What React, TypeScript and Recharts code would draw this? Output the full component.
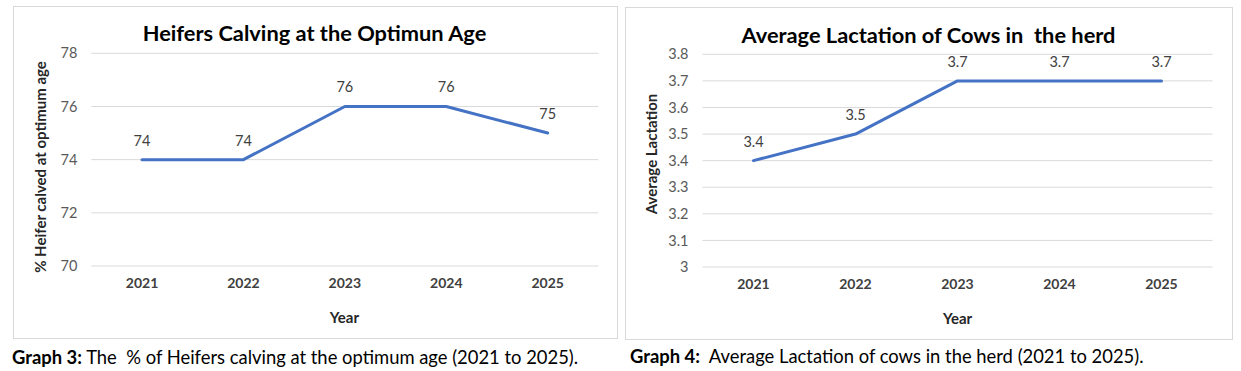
import React from 'react';
import { LineChart, Line, XAxis, YAxis, CartesianGrid, LabelList } from 'recharts';

const years = ['2021', '2022', '2023', '2024', '2025'];
const heiferPct = [74, 74, 76, 76, 75];
const avgLactation = [3.4, 3.5, 3.7, 3.7, 3.7];
const heiferTicks = [70, 72, 74, 76, 78];
const lactationTicks = [3, 3.1, 3.2, 3.3, 3.4, 3.5, 3.6, 3.7, 3.8];

const FONT = "Lato, 'Open Sans', sans-serif";
const LINE_COLOR = '#4472C4';
const GRID = '#d9d9d9';

type Box = { left: number; top: number; right: number; bottom: number };

type PanelProps = {
  box: Box;
  plot: Box;
  values: number[];
  domain: [number, number];
  ticks: number[];
  title: string;
  titleCenter: [number, number];
  titleSize: number;
  yLabel: string;
  yLabelCenter: [number, number];
  yLabelSize: number;
  xLabelCenter: [number, number];
};

const YW = 60;
const XH = 30;

function Panel(p: PanelProps) {
  const data = years.map((y, i) => ({ year: y, value: p.values[i] }));
  const w = p.box.right - p.box.left;
  const h = p.box.bottom - p.box.top;
  const plotW = p.plot.right - p.plot.left;
  const pad = plotW / years.length / 2;
  const margin = {
    top: p.plot.top - p.box.top,
    bottom: p.box.bottom - p.plot.bottom - XH,
    left: p.plot.left - p.box.left - YW,
    right: p.box.right - p.plot.right,
  };
  return (
    <>
      <div
        style={{
          position: 'absolute',
          left: p.box.left,
          top: p.box.top,
          width: w,
          height: h,
          boxSizing: 'border-box',
          border: '1px solid #d9d9d9',
          background: '#fff',
        }}
      />
      <div style={{ position: 'absolute', left: p.box.left, top: p.box.top, width: w, height: h }}>
        <LineChart width={w} height={h} data={data} margin={margin}>
          <CartesianGrid vertical={false} stroke={GRID} strokeWidth={1} />
          <XAxis
            dataKey="year"
            height={XH}
            axisLine={false}
            tickLine={false}
            tickSize={0}
            tickMargin={12}
            padding={{ left: pad, right: pad }}
            tick={{ fill: '#404040', fontSize: 14, fontWeight: 700, fontFamily: FONT }}
            interval={0}
          />
          <YAxis
            width={YW}
            domain={p.domain}
            ticks={p.ticks}
            type="number"
            axisLine={false}
            tickLine={false}
            tickSize={0}
            tickMargin={14}
            interval={0}
            tick={{ fill: '#595959', fontSize: 14.5, fontFamily: FONT }}
          />
          <Line
            type="linear"
            dataKey="value"
            stroke={LINE_COLOR}
            strokeWidth={3}
            dot={false}
            strokeLinecap="round"
            strokeLinejoin="round"
            isAnimationActive={false}
          >
            <LabelList
              dataKey="value"
              position="top"
              offset={14}
              fill="#404040"
              fontSize={14.5}
              fontFamily={FONT}
            />
          </Line>
        </LineChart>
      </div>
      <div
        style={{
          position: 'absolute',
          left: p.titleCenter[0] - 300,
          top: p.titleCenter[1] - 15,
          width: 600,
          height: 30,
          lineHeight: '30px',
          textAlign: 'center',
          fontFamily: FONT,
          fontWeight: 700,
          fontSize: p.titleSize,
          color: '#000',
          whiteSpace: 'pre',
        }}
      >
        {p.title}
      </div>
      <div
        style={{
          position: 'absolute',
          left: p.yLabelCenter[0],
          top: p.yLabelCenter[1],
          transform: 'translate(-50%, -50%) rotate(-90deg)',
          fontFamily: FONT,
          fontWeight: 700,
          fontSize: p.yLabelSize,
          color: '#262626',
          whiteSpace: 'nowrap',
          lineHeight: '18px',
        }}
      >
        {p.yLabel}
      </div>
      <div
        style={{
          position: 'absolute',
          left: p.xLabelCenter[0],
          top: p.xLabelCenter[1],
          transform: 'translate(-50%, -50%)',
          fontFamily: FONT,
          fontWeight: 700,
          fontSize: 15,
          color: '#262626',
          whiteSpace: 'nowrap',
          lineHeight: '18px',
        }}
      >
        Year
      </div>
    </>
  );
}

function Caption({ x, y, bold, rest }: { x: number; y: number; bold: string; rest: string }) {
  return (
    <div
      style={{
        position: 'absolute',
        left: x,
        top: y - 12,
        height: 24,
        lineHeight: '24px',
        fontFamily: FONT,
        fontSize: 18.4,
        color: '#000',
        whiteSpace: 'pre',
      }}
    >
      <span style={{ fontWeight: 700 }}>{bold}</span>
      {rest}
    </div>
  );
}

export default function App() {
  return (
    <div
      style={{
        position: 'absolute',
        left: 0,
        top: 0,
        width: 1241,
        height: 371,
        background: '#fff',
        overflow: 'hidden',
      }}
    >
      <Panel
        box={{ left: 13, top: 6, right: 618, bottom: 339 }}
        plot={{ left: 91.3, top: 53.3, right: 598.4, bottom: 266 }}
        values={heiferPct}
        domain={[70, 78]}
        ticks={heiferTicks}
        title="Heifers Calving at the Optimun Age"
        titleCenter={[314.5, 33]}
        titleSize={21.8}
        yLabel="% Heifer calved at optimum age"
        yLabelCenter={[40, 166.5]}
        yLabelSize={15}
        xLabelCenter={[344.4, 316.7]}
      />
      <Panel
        box={{ left: 625, top: 7, right: 1233, bottom: 340 }}
        plot={{ left: 702.5, top: 54.3, right: 1212.5, bottom: 267 }}
        values={avgLactation}
        domain={[3, 3.8]}
        ticks={lactationTicks}
        title="Average Lactation of Cows in  the herd"
        titleCenter={[928.5, 35]}
        titleSize={21.8}
        yLabel="Average Lactation"
        yLabelCenter={[651, 154]}
        yLabelSize={15}
        xLabelCenter={[957.5, 318]}
      />
      <Caption x={12} y={356.5} bold="Graph 3:" rest=" The  % of Heifers calving at the optimum age (2021 to 2025)." />
      <Caption x={630} y={356} bold="Graph 4:" rest="  Average Lactation of cows in the herd (2021 to 2025)." />
    </div>
  );
}
